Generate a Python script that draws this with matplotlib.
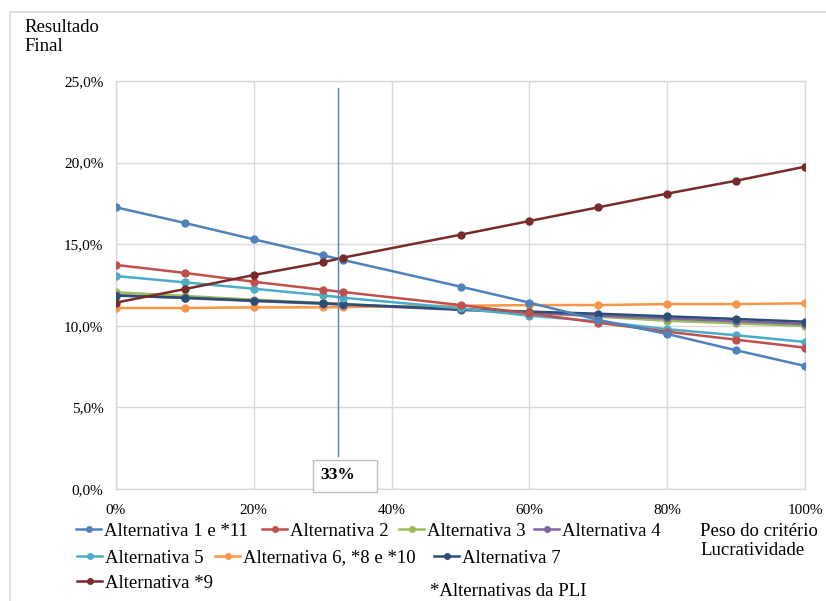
import matplotlib
matplotlib.use('agg')
import matplotlib.pyplot as plt
from matplotlib.patches import Rectangle
from matplotlib.ticker import FuncFormatter

plt.rcParams['font.family'] = ['Liberation Serif', 'DejaVu Serif']

# peso do criterio lucratividade (%)
pesos = [0, 10, 20, 30, 33, 50, 60, 70, 80, 90, 100]

alt1 = [17.26, 16.30, 15.30, 14.32, 14.03, 12.40, 11.42, 10.36, 9.50, 8.50, 7.54]
alt2 = [13.73, 13.24, 12.70, 12.21, 12.07, 11.27, 10.76, 10.19, 9.64, 9.15, 8.66]
alt3 = [12.05, 11.83, 11.60, 11.40, 11.33, 11.01, 10.80, 10.56, 10.31, 10.15, 9.99]
alt4 = [11.88, 11.70, 11.52, 11.35, 11.30, 10.97, 10.80, 10.62, 10.45, 10.28, 10.11]
alt5 = [13.05, 12.66, 12.27, 11.87, 11.72, 11.07, 10.62, 10.27, 9.79, 9.42, 9.01]
alt6 = [11.09, 11.09, 11.13, 11.13, 11.15, 11.23, 11.27, 11.27, 11.33, 11.33, 11.38]
alt7 = [11.85, 11.72, 11.54, 11.38, 11.32, 11.01, 10.87, 10.74, 10.58, 10.42, 10.25]
alt9 = [11.42, 12.25, 13.11, 13.89, 14.18, 15.58, 16.42, 17.26, 18.10, 18.89, 19.75]

labels = ['Alternativa 1 e *11', 'Alternativa 2', 'Alternativa 3', 'Alternativa 4',
          'Alternativa 5', 'Alternativa 6, *8 e *10', 'Alternativa 7', 'Alternativa *9']
series = [alt1, alt2, alt3, alt4, alt5, alt6, alt7, alt9]
colors = ['#4F81BD', '#C0504D', '#9BBB59', '#8064A2', '#4BACC6', '#F79646', '#2C4D75', '#772C2A']

# drawing order so the dark lines sit on top like the original
order = [5, 2, 3, 6, 4, 1, 0, 7]

marca = 32.2   # posicao da linha vertical
marca_txt = '33%'

W, H = 826, 601
fig = plt.figure(figsize=(W / 100, H / 100), dpi=100)

# outer chart border
fig.patches.append(Rectangle((10 / W, -0.1), 1.1, 1 - 12 / H + 0.1, transform=fig.transFigure,
                             fill=False, edgecolor='#D9D9D9', linewidth=1.2))

ax = fig.add_axes([116 / W, (H - 489) / H, (805 - 116) / W, (489 - 81) / H])
lines = {}
for i in order:
    ln, = ax.plot(pesos, series[i], color=colors[i], lw=1.8, marker='o', markersize=5,
                  label=labels[i], zorder=3)
    lines[i] = ln

ax.set_xlim(0, 100)
ax.set_ylim(0, 25)
ax.set_xticks(range(0, 101, 20))
ax.set_yticks(range(0, 26, 5))
ax.xaxis.set_major_formatter(FuncFormatter(lambda v, p: f'{v:.0f}%'))
ax.yaxis.set_major_formatter(FuncFormatter(lambda v, p: f'{v:.1f}%'.replace('.', ',')))
ax.grid(True, color='#D9D9D9', lw=1.0, zorder=0)
ax.tick_params(length=0, labelsize=11)
ax.tick_params(axis='x', pad=11)
ax.tick_params(axis='y', pad=9)
for s in ax.spines.values():
    s.set_color('#D9D9D9')
    s.set_linewidth(1.0)

# vertical marker line and label box
ax.plot([marca, marca], [2.0, 24.6], color='#4F81BD', lw=1.0, zorder=4)
ax.add_patch(Rectangle((28.6, -0.2), 9.3, 1.98, facecolor='white', edgecolor='#BFBFBF',
                       lw=1.0, zorder=5, clip_on=False))
ax.text(29.7, 0.85, marca_txt, ha='left', va='center', fontsize=12.5, fontweight='bold',
        zorder=6)

# legend laid out like the source (flowing rows)
leg_pos = [(76, 531), (262, 531), (399, 531), (534, 531),
           (77, 558), (215, 558), (434, 558), (77, 583)]
for i, (x, y) in enumerate(leg_pos):
    lg = fig.legend([lines[i]], [labels[i]], loc='center left',
                    bbox_to_anchor=(x / W, 1 - y / H), frameon=False, fontsize=13.5,
                    handlelength=1.35, handletextpad=0.15, borderpad=0, borderaxespad=0,
                    markerscale=0.8)

fig.text(24 / W, 1 - 37 / H, 'Resultado\nFinal', fontsize=13.5, va='center', ha='left',
         linespacing=1.1)
fig.text(700 / W, 1 - 541 / H, 'Peso do critério\nLucratividade', fontsize=13.5,
         va='center', ha='left', linespacing=1.1)
fig.text(430 / W, 1 - 592 / H, '*Alternativas da PLI', fontsize=13.5, va='center', ha='left')

plt.savefig('out.png', dpi=100)
